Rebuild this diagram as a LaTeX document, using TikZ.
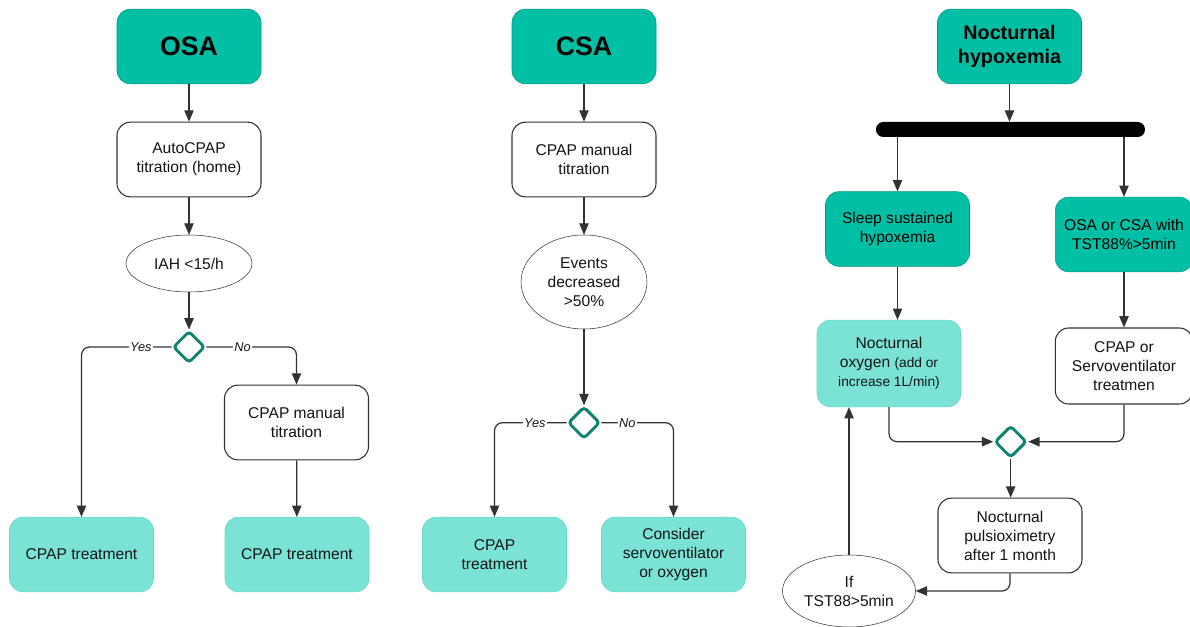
\documentclass[tikz,border=0pt]{standalone}
\usepackage{fontspec}
\setmainfont{Liberation Sans}
\usetikzlibrary{arrows.meta,shapes.geometric}
\definecolor{hxteal}{RGB}{0,191,165}
\definecolor{hxtealline}{RGB}{0,150,128}
\definecolor{hxmint}{RGB}{122,227,214}
\definecolor{hxmintline}{RGB}{104,212,198}
\definecolor{hxgate}{RGB}{16,130,112}
\definecolor{hxline}{RGB}{50,50,50}
\definecolor{hxtext}{RGB}{20,20,20}

\begin{document}
\begin{tikzpicture}[x=0.75pt, y=-0.75pt,
        title/.style={draw=hxtealline, fill=hxteal, rounded corners=10pt, minimum width=108pt, minimum height=56pt, align=center, text=black, font=\fontsize{20}{24}\selectfont\bfseries},
        stepbox/.style={draw=hxline, fill=white, thick, rounded corners=10pt, minimum width=108pt, minimum height=56pt, align=center, text=hxtext, font=\fontsize{11.7}{14.3}\selectfont},
        result/.style={draw=hxmintline, fill=hxmint, rounded corners=10pt, minimum width=108pt, minimum height=56pt, align=center, text=hxtext, font=\fontsize{11.7}{14.3}\selectfont},
        test/.style={draw=hxline, ellipse, inner sep=0pt, align=center, text=hxtext, font=\fontsize{11.7}{14.3}\selectfont},
        gate/.style={draw=hxgate, fill=white, diamond, line width=2.2pt, rounded corners=2.5pt, minimum size=24pt, inner sep=0pt},
        fork/.style={fill=black, rounded corners=5.5pt, minimum width=201.75pt, minimum height=11.25pt, inner sep=0pt},
        flow/.style={-{Triangle[length=8.5pt, width=7pt]}, line width=0.9pt, draw=hxline},
        lbl/.style={font=\fontsize{9.6}{11}\selectfont\itshape, text=hxtext, fill=white, inner sep=1pt}
      ]
      \useasboundingbox (0,0) rectangle (1190,627);

      % OSA
      \node[title] (osa) at (189,46.5) {OSA};
      \node[stepbox] (autocpap) at (189,159.5) {AutoCPAP\\titration (home)};
      \node[test, minimum width=94.5pt, minimum height=42.75pt] (iah) at (189,263.5) {IAH <15/h};
      \node[gate] (gosa) at (189,347) {};
      \node[stepbox] (manosa) at (296.5,422.5) {CPAP manual\\titration};
      \node[result] (treata) at (81.5,554.5) {CPAP treatment};
      \node[result] (treatb) at (297,554.5) {CPAP treatment};

      \draw[flow] (osa) -- (autocpap);
      \draw[flow] (autocpap) -- (iah);
      \draw[flow] (iah) -- (gosa);
      \draw[flow, rounded corners=6pt] (gosa.west) -| node[lbl, pos=0.17] {Yes} (treata.north);
      \draw[flow, rounded corners=6pt] (gosa.east) -| node[lbl, pos=0.2] {No} (manosa.north);
      \draw[flow] (manosa) -- (treatb);

      % CSA
      \node[title] (csa) at (584,46.5) {CSA};
      \node[stepbox] (mancsa) at (584,159.5) {CPAP manual\\titration};
      \node[test, minimum width=94.5pt, minimum height=70.5pt] (events) at (584,282) {Events\\decreased\\>50\%};
      \node[gate] (gcsa) at (584,422.7) {};
      \node[result] (treatc) at (494.5,554.5) {CPAP\\treatment};
      \node[result] (consider) at (673.5,554.5) {Consider\\servoventilator\\or oxygen};

      \draw[flow] (csa) -- (mancsa);
      \draw[flow] (mancsa) -- (events);
      \draw[flow] (events) -- (gcsa);
      \draw[flow, rounded corners=6pt] (gcsa.west) -| node[lbl, pos=0.22] {Yes} (treatc.north);
      \draw[flow, rounded corners=6pt] (gcsa.east) -| node[lbl, pos=0.18] {No} (consider.north);

      % nocturnal hypoxemia
      \node[title, font=\fontsize{14.8}{17.5}\selectfont\bfseries] (hypox) at (1009.5,46.5) {Nocturnal\\hypoxemia};
      \node[fork] (bar) at (1010.5,129.5) {};
      \node[title, font=\fontsize{11.7}{14.3}\selectfont] (sleep) at (897.5,229) {Sleep sustained\\hypoxemia};
      \node[title, font=\fontsize{11.7}{14.3}\selectfont, minimum width=103pt] (osacsa) at (1124,234.5) {OSA or CSA with\\TST88\%>5min};
      \node[result, minimum height=65pt] (oxygen) at (889,363.5) {Nocturnal\\oxygen {\fontsize{10.3}{14.3}\selectfont (add or}\\{\fontsize{10.3}{14.3}\selectfont increase 1L/min)}};
      \node[stepbox, minimum width=103pt, minimum height=57pt] (servo) at (1124,366) {CPAP or\\Servoventilator\\treatmen};
      \node[gate] (gnh) at (1010.7,441.7) {};
      \node[stepbox] (pulse) at (1010,535.5) {Nocturnal\\pulsioximetry\\after 1 month};
      \node[test, minimum width=99.75pt, minimum height=54pt] (check) at (849,591) {If\\TST88>5min};

      \draw[flow] (hypox.south) -- (hypox.south |- bar.north);
      \draw[flow] (bar.south -| sleep) -- (sleep);
      \draw[flow] (bar.south -| osacsa) -- (osacsa);
      \draw[flow] (sleep) -- (sleep |- oxygen.north);
      \draw[flow] (osacsa) -- (servo);
      \draw[flow, rounded corners=6pt] (oxygen.south) |- (gnh.west);
      \draw[flow, rounded corners=6pt] (servo.south) |- (gnh.east);
      \draw[flow] (gnh.south) -- (gnh.south |- pulse.north);
      \draw[flow, rounded corners=6pt] (pulse.south) |- (check.east);
      \draw[flow] (check.north) -- (check.north |- oxygen.south);
    \end{tikzpicture}
\end{document}
